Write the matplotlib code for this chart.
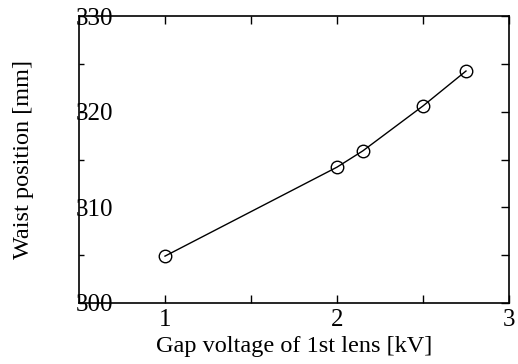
import matplotlib
matplotlib.use('Agg')
import matplotlib.pyplot as plt
from matplotlib.ticker import MultipleLocator

plt.rcParams['font.family'] = ['Liberation Serif', 'DejaVu Serif']

# data
gap_voltage = [1.0, 2.0, 2.15, 2.5, 2.75]
waist_pos = [304.9, 314.2, 315.9, 320.6, 324.25]

fig = plt.figure(figsize=(5.18, 3.64), dpi=100)
ax = fig.add_axes([0.1525, 0.1676, 0.8301, 0.7884])

ax.plot(gap_voltage, waist_pos, color='black', linewidth=1,
        marker='o', markersize=9, markerfacecolor='none', markeredgewidth=1)

ax.set_xlim(0.5, 3)
ax.set_ylim(300, 330)
ax.xaxis.set_major_locator(MultipleLocator(1))
ax.xaxis.set_minor_locator(MultipleLocator(0.5))
ax.yaxis.set_major_locator(MultipleLocator(10))
ax.yaxis.set_minor_locator(MultipleLocator(5))

ax.tick_params(which='both', direction='in', top=True, right=True, width=1, length=6)
ax.tick_params(axis='x', labelsize=18, pad=4)
ax.tick_params(axis='y', labelsize=18, pad=2)
for lab in ax.get_yticklabels():
    lab.set_horizontalalignment('left')

# left ticks are shorter than the others
for t in ax.yaxis.get_major_ticks() + ax.yaxis.get_minor_ticks():
    t.tick1line.set_markersize(3.5)

for s in ax.spines.values():
    s.set_linewidth(1.2)

ax.set_xlabel('Gap voltage of 1st lens [kV]', fontsize=17.5, labelpad=4)
ax.set_ylabel('Waist position [mm]', fontsize=17.5, labelpad=29)

fig.savefig('out.png', dpi=100)
